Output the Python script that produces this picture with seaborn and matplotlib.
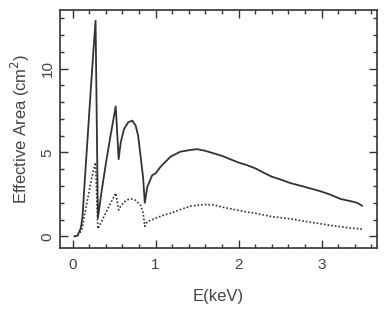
import matplotlib
matplotlib.use("Agg")
import matplotlib.pyplot as plt
import numpy as np
import pandas as pd
import seaborn as sns
from matplotlib.ticker import MultipleLocator

# energy grid (keV)
energy = [0.02, 0.06, 0.10, 0.12, 0.14, 0.18, 0.22, 0.25, 0.277, 0.305,
          0.35, 0.40, 0.45, 0.52, 0.555, 0.58, 0.62, 0.67, 0.72, 0.76,
          0.79, 0.82, 0.85, 0.87, 0.90, 0.96, 1.00, 1.06, 1.12, 1.18,
          1.30, 1.42, 1.50, 1.60, 1.70, 1.80, 1.90, 2.00, 2.10, 2.20,
          2.30, 2.40, 2.50, 2.63, 2.80, 3.00, 3.10, 3.23, 3.35, 3.43, 3.49]

# solid curve: effective area
area_total = [0.0, 0.05, 0.5, 1.2, 2.8, 5.8, 8.8, 11.0, 12.85, 1.1,
              2.7, 4.3, 5.8, 7.75, 4.6, 5.6, 6.4, 6.8, 6.9, 6.6,
              6.0, 4.75, 3.5, 2.0, 2.95, 3.65, 3.75, 4.15, 4.45, 4.75,
              5.05, 5.15, 5.2, 5.1, 4.95, 4.8, 4.6, 4.4, 4.25, 4.06,
              3.8, 3.56, 3.4, 3.17, 2.95, 2.67, 2.5, 2.23, 2.1, 2.0, 1.82]

# dotted curve
area_part = [0.0, 0.02, 0.3, 0.6, 1.2, 2.2, 3.2, 3.9, 4.4, 0.45,
             0.9, 1.4, 1.9, 2.58, 1.58, 1.8, 2.05, 2.2, 2.22, 2.15,
             2.0, 1.85, 1.4, 0.6, 0.88, 1.0, 1.08, 1.2, 1.3, 1.38,
             1.6, 1.8, 1.85, 1.9, 1.88, 1.75, 1.65, 1.55, 1.45, 1.38,
             1.28, 1.18, 1.12, 1.04, 0.9, 0.74, 0.66, 0.58, 0.5, 0.46, 0.43]

sns.set_style("ticks")
plt.rcParams["font.family"] = ["Liberation Sans", "DejaVu Sans"]

fig = plt.figure(figsize=(3.88, 3.09), dpi=100)
ax = fig.add_axes([0.155, 0.197, 0.817, 0.771])

ink = "#333333"
sns.lineplot(x=energy, y=area_total, ax=ax, color=ink, linewidth=1.3,
             sort=False)
sns.lineplot(x=energy, y=area_part, ax=ax, color=ink, linewidth=1.2,
             linestyle=(0, (1, 1.2)), sort=False)

ax.set_xlim(-0.15, 3.67)
ax.set_ylim(-0.7, 13.5)
ax.xaxis.set_major_locator(MultipleLocator(1))
ax.xaxis.set_minor_locator(MultipleLocator(0.2))
ax.yaxis.set_major_locator(MultipleLocator(5))
ax.yaxis.set_minor_locator(MultipleLocator(1))
ax.tick_params(which="both", direction="in", top=True, right=True,
               color=ink, width=1.0, labelsize=11, labelcolor="#444444")
ax.tick_params(which="major", length=6)
ax.tick_params(which="minor", length=3)
ax.tick_params(axis="x", which="major", pad=7)
ax.tick_params(axis="y", which="major", pad=4)
for lab in ax.get_yticklabels():
    lab.set_rotation(90)
    lab.set_va("center")
for sp in ax.spines.values():
    sp.set_color(ink)
    sp.set_linewidth(1.2)

ax.set_xlabel("E(keV)", fontsize=12, color="#444444", labelpad=12)
ax.set_ylabel("Effective Area (cm$^2$)", fontsize=12, color="#444444",
              labelpad=6)

fig.savefig("out.png", dpi=100)
